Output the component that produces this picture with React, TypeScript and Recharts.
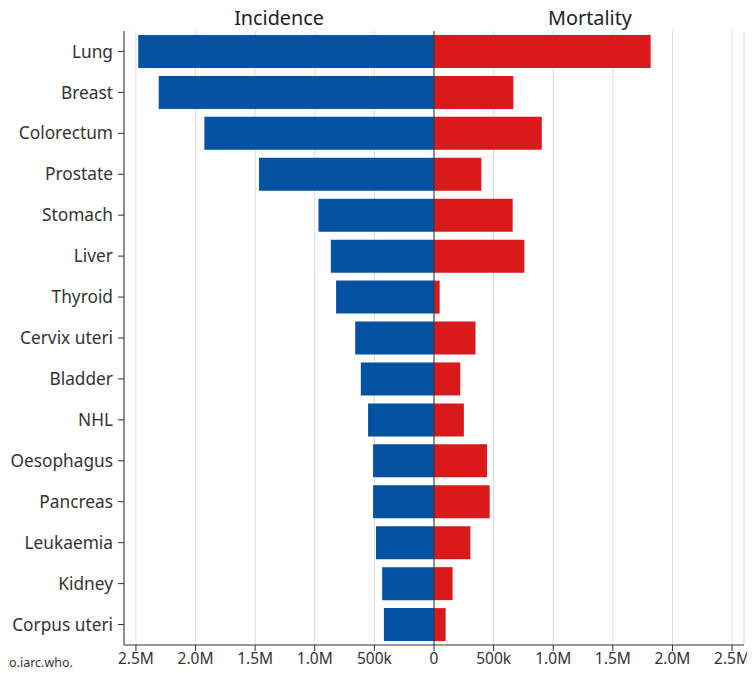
import React from "react";
import { BarChart, Bar, XAxis, YAxis, CartesianGrid, ReferenceLine } from "recharts";

const categories = [
  "Lung", "Breast", "Colorectum", "Prostate", "Stomach", "Liver", "Thyroid",
  "Cervix uteri", "Bladder", "NHL", "Oesophagus", "Pancreas", "Leukaemia",
  "Kidney", "Corpus uteri",
];
const incidence = [
  2480675, 2308897, 1926118, 1467854, 968784, 865269, 821214,
  661021, 613791, 553010, 511054, 510992, 486777, 434840, 420368,
];
const mortality = [
  1817469, 665684, 903859, 397430, 659853, 757948, 47507,
  348189, 220349, 250475, 445129, 467005, 305033, 155953, 97723,
];
const xTicks = [-2500000, -2000000, -1500000, -1000000, -500000, 0, 500000, 1000000, 1500000, 2000000, 2500000];

const data = categories.map((name, i) => ({
  name,
  incidence: -incidence[i],
  mortality: mortality[i],
}));

const fmt = (v: number) => {
  const a = Math.abs(v);
  if (a === 0) return "0";
  if (a < 1000000) return `${Math.round(a / 1000)}k`;
  return `${(a / 1000000).toFixed(1)}M`;
};

const FONT = "'Noto Sans', 'Open Sans', sans-serif";

export default function App() {
  return (
    <div style={{ position: "relative", width: 747, height: 665, fontFamily: FONT }}>
      <BarChart
        width={747}
        height={665}
        data={data}
        layout="vertical"
        stackOffset="sign"
        barCategoryGap={4}
        margin={{ top: 23, right: 11, bottom: 0, left: 0 }}
      >
        <CartesianGrid horizontal={false} vertical={true} stroke="#dcdcdc" />
        <XAxis
          type="number"
          domain={[-2600000, 2600000]}
          ticks={xTicks}
          tickFormatter={fmt}
          height={28}
          tickSize={6}
          stroke="#333"
          tick={{ fill: "#333", fontSize: 15.5, fontFamily: FONT }}
          allowDataOverflow
        />
        <YAxis
          type="category"
          dataKey="name"
          width={116}
          tickSize={6}
          tickMargin={5}
          stroke="#333"
          tick={{ fill: "#333", fontSize: 17.3, fontFamily: FONT }}
          interval={0}
        />
        <Bar dataKey="incidence" stackId="a" fill="#0552a2" isAnimationActive={false} />
        <Bar dataKey="mortality" stackId="a" fill="#d91a1c" isAnimationActive={false} />
        <ReferenceLine x={0} stroke="#333" strokeWidth={1} />
      </BarChart>
      <div style={{ position: "absolute", left: 116, width: 310, top: -4, textAlign: "center", fontSize: 19.8, color: "#222", zIndex: 2 }}>
        Incidence
      </div>
      <div style={{ position: "absolute", left: 427, width: 310, top: -4, textAlign: "center", fontSize: 19.8, color: "#222", zIndex: 2 }}>
        Mortality
      </div>
      <div style={{ position: "absolute", left: -5, top: 646, fontSize: 12.5, color: "#333", whiteSpace: "nowrap", zIndex: 2 }}>
        co.iarc.who.
      </div>
    </div>
  );
}
